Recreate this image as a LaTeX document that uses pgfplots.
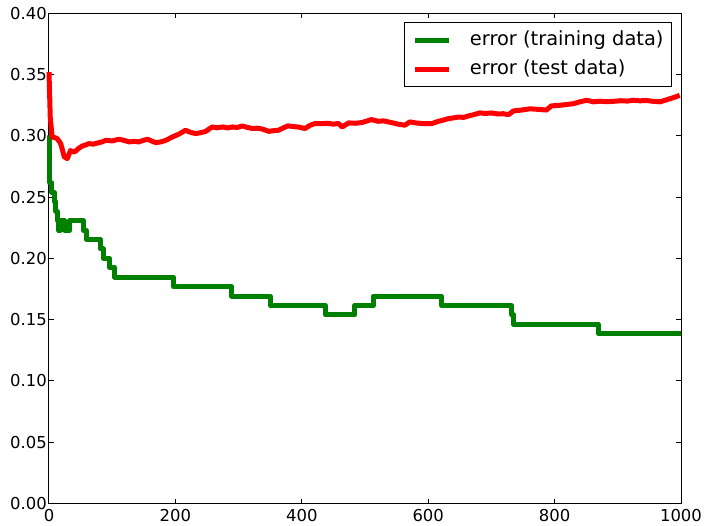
\documentclass[border=0pt]{standalone}
\usepackage{pgfplots}
\pgfplotsset{compat=1.18}
\usepackage{fontspec}
\setmainfont{DejaVu Sans}
\definecolor{mplgreen}{HTML}{008000}
\definecolor{mplred}{HTML}{FF0000}
\begin{document}
\begin{tikzpicture}
\begin{axis}[
  name=ax,
  scale only axis,
  width=632bp, height=490.3bp,
  xmin=0, xmax=1000, ymin=0, ymax=0.4,
  xtick={0,200,400,600,800,1000},
  ytick={0,0.05,0.10,0.15,0.20,0.25,0.30,0.35,0.40},
  clip=false,
  axis line style={line width=1bp},
  every tick/.style={black, line width=1bp},
  major tick length=5bp,
  tick align=inside,
  xtick pos=both, ytick pos=both,
  ticklabel style={font=\fontsize{16.5}{19}\selectfont},
  yticklabel style={inner xsep=2bp},
  xticklabel style={inner ysep=2bp, yshift=-3.5bp},
  /pgf/number format/assume math mode=true,
  xticklabel style={/pgf/number format/1000 sep={}},
  yticklabel style={/pgf/number format/.cd, fixed, fixed zerofill, precision=2},
  legend style={at={(1,1)}, anchor=north east, xshift=-9bp, yshift=-9bp,
    draw=black, line width=1bp, font=\fontsize{19.5}{23}\selectfont,
    inner xsep=8bp, inner ysep=8bp, row sep=10bp,
    nodes={inner sep=0bp, text height=15bp, text depth=4bp},
    /tikz/every odd column/.append style={column sep=18bp}},
  legend cell align=left,
  legend image code/.code={\draw[#1] (0bp,0bp) -- (34bp,0bp);},
]
\addplot[const plot, color=mplgreen, line width=5bp, line join=round] coordinates {
(0,0.300) (1,0.2615) (4,0.254) (8,0.246) (11,0.2385) (13,0.231) (15,0.223)
(18,0.231) (25,0.223) (33,0.231) (54,0.223) (59,0.2154) (81,0.2077) (86,0.2)
(96,0.1923) (104,0.1846) (197,0.1769) (289,0.1692) (350,0.1615) (437,0.1538)
(484,0.1615) (513,0.1692) (621,0.1615) (732,0.1538) (735,0.1462) (869,0.1385)
(1000,0.1385)
};
\addlegendentry{error (training data)}
\addplot[color=mplred, line width=5bp, line join=round] coordinates {
(0,0.352) (2,0.315) (5,0.299) (9,0.2985) (13,0.2977) (16,0.2955) (18.5,0.2936) (21,0.289) (24,0.2828) (29,0.2814)
(34,0.288) (38,0.2868) (42,0.2874) (47,0.2898) (53,0.2917) (58,0.2925) (63,0.2936) (70,0.2932) (79,0.2944) (84,0.2950) (90,0.2963)
(100,0.2958) (111,0.2972) (119,0.2962) (127,0.295) (135,0.2955) (142,0.295) (149,0.2962) (156,0.2972) (162,0.2958) (169,0.2944) (177,0.2950) (185,0.2963)
(195,0.299) (205,0.3012) (216,0.3045) (224,0.3028) (232,0.3018) (240,0.3025) (248,0.3036) (258,0.3072) (266,0.3065) (275,0.3072) (283,0.3064) (290,0.3072)
(298,0.3068) (306,0.308) (314,0.3068) (322,0.3059) (330,0.3062) (338,0.3054) (348,0.3036) (356,0.3042) (363,0.3045) (370,0.3062) (378,0.3081) (386,0.3075)
(394,0.3072) (405,0.3059) (413,0.3085) (421,0.310) (430,0.3098) (440,0.3102) (450,0.3095) (458,0.310) (464,0.3072) (474,0.3105)
(485,0.3102) (495,0.3108) (503,0.3120) (510,0.3132) (521,0.3118) (529,0.3122) (537,0.3113) (545,0.3104) (553,0.3094) (563,0.3086)
(571,0.3113) (580,0.3105) (590,0.310) (598,0.3098) (606,0.310) (616,0.3118) (624,0.3128) (632,0.314) (640,0.3146) (648,0.3153) (656,0.3150)
(664,0.3162) (672,0.3172) (682,0.3187) (690,0.3182) (700,0.3186) (710,0.3178) (719,0.318) (727,0.3172) (735,0.3203) (748,0.3210) (761,0.322)
(775,0.3215) (787,0.321) (795,0.3244) (807,0.3248) (819,0.3255) (830,0.3262) (840,0.3277) (851,0.329) (861,0.3277)
(872,0.3282) (882,0.3278) (893,0.3281) (905,0.3286) (915,0.3283) (925,0.329) (935,0.3285) (945,0.3288) (956,0.3281) (967,0.3277) (975,0.3290) (983,0.3303) (992,0.3318) (998,0.333)
};
\addlegendentry{error (test data)}
\end{axis}
\path ([xshift=-49bp,yshift=-22.5bp]ax.south west) rectangle ([xshift=27bp,yshift=13.2bp]ax.north east);
\end{tikzpicture}
\end{document}
